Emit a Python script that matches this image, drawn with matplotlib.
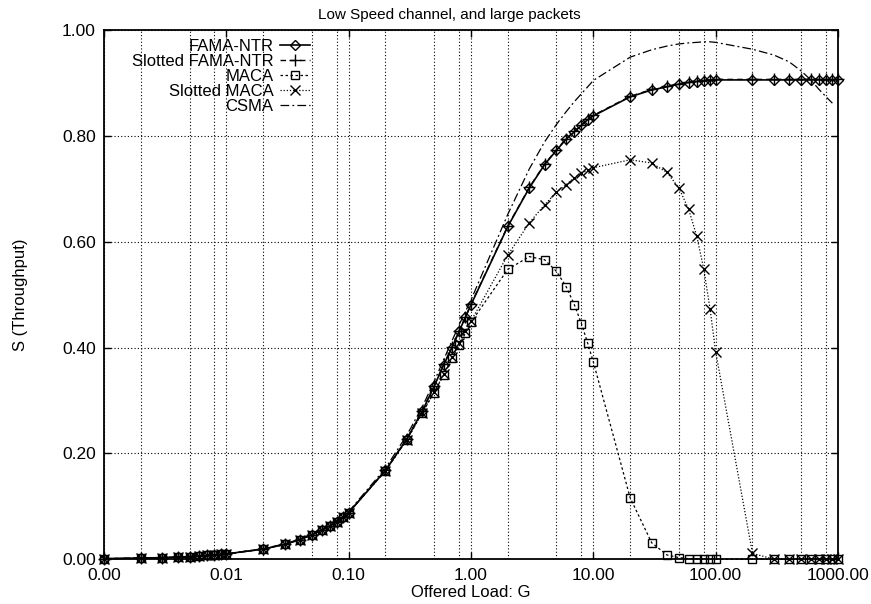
# Throughput vs offered load - low speed channel, large packets

import numpy as np
import matplotlib
matplotlib.use("Agg")
import matplotlib.pyplot as plt
from matplotlib.ticker import FixedLocator, LogLocator, FuncFormatter, NullFormatter

plt.rcParams["font.family"] = ["Liberation Sans", "DejaVu Sans"]

# offered load G (1..9 per decade)
load = [0.001, 0.002, 0.003, 0.004, 0.005, 0.006, 0.007, 0.008, 0.009,
        0.01, 0.02, 0.03, 0.04, 0.05, 0.06, 0.07, 0.08, 0.09,
        0.1, 0.2, 0.3, 0.4, 0.5, 0.6, 0.7, 0.8, 0.9,
        1, 2, 3, 4, 5, 6, 7, 8, 9,
        10, 20, 30, 40, 50, 60, 70, 80, 90,
        100, 200, 300, 400, 500, 600, 700, 800, 900,
        1000]

fama_ntr = [0.001, 0.002, 0.003, 0.004, 0.005, 0.006, 0.007, 0.008, 0.009,
            0.010, 0.019, 0.028, 0.037, 0.046, 0.055, 0.063, 0.071, 0.080,
            0.088, 0.168, 0.228, 0.280, 0.327, 0.368, 0.400, 0.431, 0.457,
            0.481, 0.629, 0.702, 0.746, 0.773, 0.794, 0.808, 0.820, 0.831,
            0.838, 0.874, 0.887, 0.893, 0.898, 0.901, 0.903, 0.904, 0.905,
            0.906, 0.906, 0.906, 0.906, 0.906, 0.906, 0.906, 0.906, 0.906,
            0.906]

slotted_fama_ntr = [0.001, 0.002, 0.003, 0.004, 0.005, 0.006, 0.007, 0.008, 0.009,
                    0.010, 0.019, 0.028, 0.037, 0.046, 0.055, 0.063, 0.071, 0.080,
                    0.088, 0.168, 0.228, 0.281, 0.328, 0.369, 0.401, 0.432, 0.458,
                    0.482, 0.630, 0.703, 0.747, 0.774, 0.795, 0.809, 0.821, 0.832,
                    0.839, 0.875, 0.888, 0.894, 0.899, 0.902, 0.904, 0.905, 0.906,
                    0.907, 0.907, 0.907, 0.907, 0.907, 0.907, 0.907, 0.907, 0.907,
                    0.907]

maca = [0.001, 0.002, 0.003, 0.004, 0.005, 0.006, 0.007, 0.008, 0.009,
        0.010, 0.019, 0.028, 0.037, 0.046, 0.055, 0.063, 0.071, 0.080,
        0.088, 0.167, 0.226, 0.277, 0.315, 0.349, 0.380, 0.405, 0.427,
        0.448, 0.548, 0.572, 0.566, 0.544, 0.515, 0.481, 0.445, 0.408,
        0.373, 0.116, 0.031, 0.008, 0.003, 0.001, 0.001, 0.0, 0.0,
        0.0, 0.0, 0.0, 0.0, 0.0, 0.0, 0.0, 0.0, 0.0,
        0.0]

slotted_maca = [0.001, 0.002, 0.003, 0.004, 0.005, 0.006, 0.007, 0.008, 0.009,
                0.010, 0.019, 0.028, 0.037, 0.046, 0.055, 0.063, 0.071, 0.080,
                0.088, 0.167, 0.226, 0.277, 0.316, 0.350, 0.382, 0.408, 0.431,
                0.450, 0.575, 0.636, 0.670, 0.694, 0.708, 0.721, 0.730, 0.735,
                0.740, 0.755, 0.749, 0.731, 0.702, 0.662, 0.611, 0.548, 0.473,
                0.392, 0.011, 0.0, 0.0, 0.0, 0.0, 0.0, 0.0, 0.0,
                0.0]

csma = [0.001, 0.002, 0.003, 0.004, 0.005, 0.006, 0.007, 0.008, 0.009,
        0.010, 0.020, 0.029, 0.038, 0.047, 0.056, 0.064, 0.073, 0.081,
        0.090, 0.172, 0.235, 0.288, 0.336, 0.378, 0.413, 0.443, 0.468,
        0.490, 0.652, 0.738, 0.789, 0.822, 0.846, 0.865, 0.880, 0.893,
        0.905, 0.949, 0.963, 0.970, 0.974, 0.976, 0.977, 0.978, 0.978,
        0.977, 0.964, 0.953, 0.940, 0.923, 0.906, 0.888, 0.874, 0.862,
        np.nan]

x_ticks = [0.001, 0.01, 0.1, 1, 10, 100, 1000]
y_ticks = [0, 0.2, 0.4, 0.6, 0.8, 1.0]

fig = plt.figure(figsize=(8.71, 6.04), dpi=100)
ax = fig.add_axes([0.1194, 0.0742, 0.8427, 0.8758])

ax.plot(load, fama_ntr, color="black", lw=1.2, ls="-", marker="D", ms=5,
        mfc="none", mew=1.0, label="FAMA-NTR", clip_on=False)
ax.plot(load, slotted_fama_ntr, color="black", lw=1.0, ls=(0, (4, 3)), marker="+", ms=8,
        mew=1.0, label="Slotted FAMA-NTR", clip_on=False)
ax.plot(load, maca, color="black", lw=0.9, ls=(0, (2, 2)), marker="s", ms=6,
        mfc="none", mew=1.0, label="MACA", clip_on=False)
ax.plot(load, slotted_maca, color="black", lw=0.9, ls=(0, (1, 1.5)), marker="x", ms=7,
        mew=1.0, label="Slotted MACA", clip_on=False)
ax.plot(load, csma, color="black", lw=0.9, ls=(0, (7, 2.5, 1.5, 2.5)),
        label="CSMA", clip_on=False)

ax.set_xscale("log")
ax.set_xlim(0.001, 1000)
ax.set_ylim(0, 1)

ax.xaxis.set_major_locator(FixedLocator(x_ticks))
ax.xaxis.set_minor_locator(LogLocator(base=10, subs=[2, 5, 8], numticks=20))
ax.xaxis.set_major_formatter(FuncFormatter(lambda v, p: "%.2f" % v))
ax.xaxis.set_minor_formatter(NullFormatter())
ax.set_yticks(y_ticks)
ax.yaxis.set_major_formatter(FuncFormatter(lambda v, p: "%.2f" % v))

ax.tick_params(which="major", direction="in", length=5, width=1.0,
               top=True, right=True, labelsize=12.5, pad=6)
ax.tick_params(which="minor", length=0)
ax.grid(True, which="both", axis="x", color="black", ls=(0, (1, 2)), lw=0.8)
ax.grid(True, which="major", axis="y", color="black", ls=(0, (1, 2)), lw=0.8)
for sp in ax.spines.values():
    sp.set_linewidth(1.3)

ax.set_title("Low Speed channel, and large packets", fontsize=11, x=0.471, pad=8)
ax.set_xlabel("Offered Load: G", fontsize=12)
ax.set_ylabel("S (Throughput)", fontsize=12)
ax.xaxis.set_label_coords(0.5, -0.048)
ax.yaxis.set_label_coords(-0.1035, 0.5)

ax.legend(loc="upper right", bbox_to_anchor=(0.281, 0.983), markerfirst=False,
          frameon=False, fontsize=12, handlelength=1.8, handletextpad=0.4,
          labelspacing=0.0, borderpad=0, borderaxespad=0, numpoints=1)

plt.savefig("out.png", dpi=100)
